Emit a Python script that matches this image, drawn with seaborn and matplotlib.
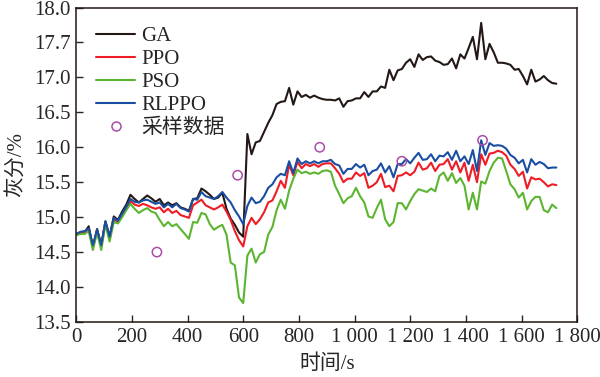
import matplotlib
matplotlib.use('Agg')
import matplotlib.pyplot as plt
from matplotlib.ticker import FuncFormatter
import numpy as np
import pandas as pd
import seaborn as sns

sns.set_style('ticks')
plt.rcParams['font.family'] = ['Liberation Serif', 'Noto Sans CJK SC']
plt.rcParams['font.size'] = 15

# sampling times (s)
time_s = np.arange(0, 1740, 15)

ga = [14.75, 14.77, 14.78, 14.87, 14.56, 14.83, 14.60, 14.94, 14.72, 15.01,
      14.96, 15.08, 15.18, 15.32, 15.26, 15.21, 15.26, 15.31, 15.27, 15.22,
      15.26, 15.17, 15.21, 15.17, 15.20, 15.14, 15.12, 15.09, 15.26, 15.27,
      15.41, 15.37, 15.32, 15.26, 15.28, 15.35, 15.12, 14.98, 14.89, 14.78,
      14.72, 16.19, 15.90, 16.07, 16.09, 16.22, 16.35, 16.46, 16.62, 16.65,
      16.66, 16.85, 16.61, 16.80, 16.72, 16.75, 16.71, 16.74, 16.71, 16.69,
      16.68, 16.68, 16.67, 16.70, 16.58, 16.66, 16.67, 16.70, 16.70, 16.79,
      16.72, 16.80, 16.80, 16.87, 16.85, 17.11, 16.96, 17.10, 17.12, 17.21,
      17.26, 17.15, 17.33, 17.25, 17.29, 17.30, 17.24, 17.22, 17.18, 17.19,
      17.27, 17.13, 17.33, 17.27, 17.42, 17.58, 17.26, 17.78, 17.26, 17.48,
      17.36, 17.21, 17.21, 17.20, 17.18, 17.11, 17.12, 17.02, 16.90, 17.11,
      16.94, 16.97, 17.02, 16.96, 16.92, 16.91]

ppo = [14.75, 14.78, 14.79, 14.83, 14.58, 14.81, 14.58, 14.92, 14.70, 14.97,
       14.93, 15.03, 15.13, 15.23, 15.18, 15.16, 15.19, 15.17, 15.14, 15.12,
       15.14, 15.07, 15.12, 15.06, 15.09, 15.03, 15.01, 14.99, 15.17, 15.21,
       15.25, 15.17, 15.14, 15.11, 15.14, 15.18, 15.08, 14.96, 14.80, 14.67,
       14.58, 14.87, 14.99, 14.90, 14.97, 15.07, 15.21, 15.24, 15.37, 15.52,
       15.42, 15.75, 15.60, 15.79, 15.70, 15.76, 15.73, 15.76, 15.72, 15.76,
       15.77, 15.77, 15.70, 15.62, 15.50, 15.55, 15.55, 15.64, 15.59, 15.63,
       15.42, 15.45, 15.50, 15.62, 15.43, 15.45, 15.37, 15.59, 15.60, 15.64,
       15.60, 15.65, 15.78, 15.68, 15.70, 15.78, 15.66, 15.75, 15.76, 15.83,
       15.68, 15.80, 15.64, 15.78, 15.52, 15.75, 15.50, 15.90, 15.75, 15.91,
       15.92, 15.95, 15.93, 15.88, 15.75, 15.69, 15.59, 15.65, 15.41, 15.57,
       15.54, 15.55, 15.50, 15.44, 15.47, 15.46]

pso = [14.74, 14.76, 14.76, 14.80, 14.53, 14.78, 14.53, 14.90, 14.65, 14.93,
       14.91, 15.00, 15.10, 15.19, 15.12, 15.06, 15.10, 15.13, 15.08, 15.06,
       14.96, 14.87, 14.93, 14.87, 14.90, 14.83, 14.76, 14.69, 14.93, 14.92,
       15.06, 15.04, 14.90, 14.82, 14.86, 14.89, 14.75, 14.35, 14.31, 13.85,
       13.77, 14.45, 14.55, 14.35, 14.47, 14.50, 14.75, 14.86, 15.10, 15.25,
       15.12, 15.38, 15.55, 15.68, 15.63, 15.65, 15.62, 15.64, 15.62, 15.66,
       15.67, 15.65, 15.45, 15.33, 15.20, 15.27, 15.30, 15.42, 15.30, 15.21,
       15.01, 14.99, 15.13, 15.25, 14.97, 14.87, 14.93, 15.20, 15.20, 15.11,
       15.23, 15.33, 15.40, 15.38, 15.36, 15.41, 15.37, 15.59, 15.64, 15.52,
       15.63, 15.49, 15.56, 15.45, 15.11, 15.35, 15.11, 15.51, 15.48, 15.66,
       15.78, 15.85, 15.84, 15.66, 15.47, 15.40, 15.28, 15.35, 15.11, 15.23,
       15.29, 15.29, 15.10, 15.07, 15.18, 15.13]

rlppo = [14.76, 14.79, 14.80, 14.84, 14.60, 14.82, 14.60, 14.94, 14.72, 14.99,
         14.95, 15.05, 15.15, 15.26, 15.22, 15.21, 15.24, 15.25, 15.22, 15.19,
         15.21, 15.14, 15.19, 15.14, 15.19, 15.13, 15.11, 15.08, 15.26, 15.25,
         15.36, 15.30, 15.28, 15.26, 15.30, 15.36, 15.28, 15.21, 15.10, 15.01,
         14.90, 15.16, 15.28, 15.20, 15.22, 15.30, 15.42, 15.47, 15.57, 15.62,
         15.60, 15.80, 15.63, 15.84, 15.76, 15.80, 15.77, 15.80, 15.77, 15.80,
         15.80, 15.82, 15.76, 15.74, 15.62, 15.69, 15.69, 15.76, 15.71, 15.75,
         15.60, 15.66, 15.68, 15.77, 15.64, 15.73, 15.57, 15.76, 15.76, 15.83,
         15.77, 15.85, 15.92, 15.82, 15.83, 15.90, 15.80, 15.88, 15.87, 15.93,
         15.82, 15.95, 15.80, 15.87, 15.76, 15.96, 15.66, 16.10, 15.89, 16.06,
         16.02, 16.03, 16.02, 15.98, 15.89, 15.85, 15.77, 15.82, 15.64, 15.83,
         15.75, 15.79, 15.76, 15.70, 15.71, 15.71]

sample_t = [290, 580, 875, 1170, 1460]
sample_ash = [14.5, 15.6, 16.0, 15.8, 16.1]

series = {'GA': ga, 'PPO': ppo, 'PSO': pso, 'RLPPO': rlppo}
colors = {'GA': '#231815', 'PPO': '#ee1c25', 'PSO': '#5cb531', 'RLPPO': '#1a4ea2'}

df = pd.concat([pd.DataFrame({'time': time_s, 'ash': v, 'method': k})
                for k, v in series.items()], ignore_index=True)

y_ticks = [13.5, 14.0, 14.5, 15.0, 15.5, 16.0, 16.5, 17.0, 17.5, 18.0]
y_tick_labels = ['13.5', '14.0', '14.5', '15.0', '15.5', '16.0', '16.5', '17.0', '17.7', '18.0']

fig = plt.figure(figsize=(6, 3.77), dpi=100)
ax = fig.add_axes([0.127, 0.146, 0.835, 0.834])

sns.lineplot(data=df, x='time', y='ash', hue='method', hue_order=list(series),
             palette=colors, linewidth=1.5, ax=ax, legend=False)
sns.scatterplot(x=sample_t, y=sample_ash, marker='o', s=45, facecolors='none',
                edgecolor='#a94da8', linewidth=1.1, ax=ax, zorder=5)

ax.set_xlim(0, 1800)
ax.set_ylim(13.5, 18.0)
ax.set_xticks(range(0, 1801, 200))
ax.xaxis.set_major_formatter(FuncFormatter(lambda v, p: f'{v:,.0f}'.replace(',', ' ')))
ax.set_yticks(y_ticks)
ax.set_yticklabels(y_tick_labels)
ax.tick_params(direction='in', length=5, width=1, labelsize=15, pad=4)
for s in ax.spines.values():
    s.set_linewidth(1.1)
    s.set_color('#231815')

ax.set_xlabel('时间/s', fontsize=15, labelpad=6)
ax.set_ylabel('灰分/%', fontsize=15, labelpad=6)

handles = [plt.Line2D([], [], color=colors[k], lw=1.5) for k in series]
handles.append(plt.Line2D([], [], ls='none', marker='o', ms=6.5, mfc='none',
                          mec='#a94da8', mew=1.1))
ax.legend(handles, list(series) + ['采样数据'], loc='upper left',
          bbox_to_anchor=(0.04, 0.94), frameon=False, borderpad=0,
          borderaxespad=0, labelspacing=0.17, handlelength=1.85,
          handletextpad=0.3, fontsize=15)

plt.savefig('out.png', dpi=100)
